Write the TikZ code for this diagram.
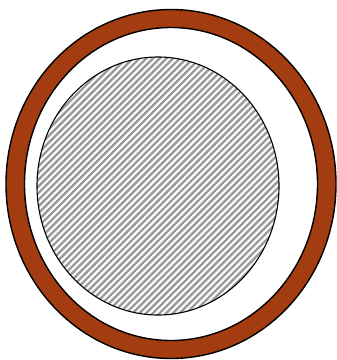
\documentclass[tikz,border=0pt]{standalone}
\usepackage{tikz}
\usetikzlibrary{calc}

\definecolor{ringbrown}{RGB}{163,60,16}
\definecolor{hatchgray}{RGB}{155,155,155}

\begin{document}
\begin{tikzpicture}[
  x=1pt,y=-1pt,
  ring/.style={fill=ringbrown,even odd rule,draw=black,line width=1.4pt},
  core/.style={draw=black,line width=1.1pt},
  hatch/.style={draw=hatchgray,line width=2.4pt}
]
\useasboundingbox (0,0) rectangle (337,360);

% ---- outer ring ----
\path[ring] (171,184) ellipse [x radius=165,y radius=174.5]
            (171,184) ellipse [x radius=146.5,y radius=156.5];

% ---- hatched core ----
\begin{scope}
  \clip (158,186) ellipse [x radius=121,y radius=129];
  \foreach \i in {-400,-393.3,...,420} {
    \draw[hatch] (\i,330) -- (\i+290,40);
  }
\end{scope}
\draw[core] (158,186) ellipse [x radius=121,y radius=129];

\end{tikzpicture}
\end{document}
